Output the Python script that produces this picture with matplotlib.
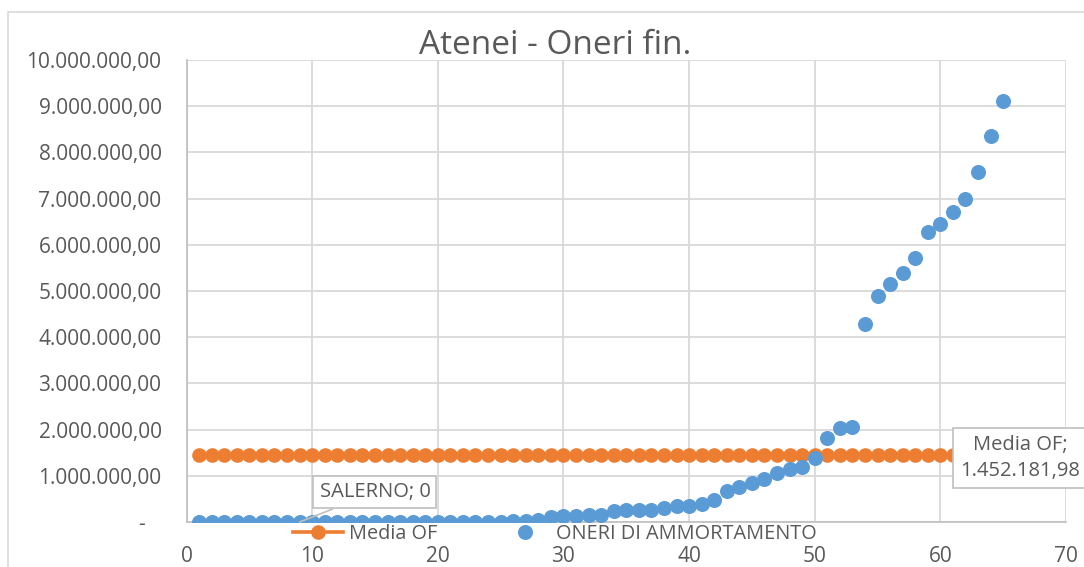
import matplotlib.pyplot as plt
from matplotlib.patches import Rectangle
from matplotlib.lines import Line2D
from matplotlib.ticker import MultipleLocator, FuncFormatter

plt.rcParams['font.family'] = ['Open Sans', 'DejaVu Sans']

# ── dati ────────────────────────────────────────────────────────────────────
atenei = list(range(1, 66))
media_of = 1452181.98
oneri_amm = [
    0, 0, 0, 0, 0, 0, 0, 0, 0, 0,
    0, 0, 0, 0, 0, 0, 0, 0, 0, 0,
    0, 0, 0, 0, 0, 20000, 30000, 50000, 110000, 120000,
    130000, 160000, 160000, 230000, 270000, 270000, 270000, 300000, 340000, 350000,
    400000, 470000, 670000, 750000, 850000, 930000, 1050000, 1150000, 1200000, 1390000,
    1820000, 2030000, 2050000, 4280000, 4900000, 5160000, 5400000, 5720000, 6270000, 6440000,
    6710000, 7000000, 7580000, 8350000, 9120000,
]
media_line = [media_of] * len(atenei)

ORANGE = '#ED7D31'
BLUE = '#5B9BD5'
TXT = '#595959'
GRID = '#D9D9D9'
FS = 15

W, H = 1084, 567
fig = plt.figure(figsize=(W / 100, H / 100), dpi=100)
ax = fig.add_axes([186.5 / W, 1 - 522 / H, (1066 - 186.5) / W, (522 - 60) / H])

# bordo esterno del grafico
fig.patches.append(Rectangle((8 / W, -0.1), 1.2, 1.1 - 12 / H, transform=fig.transFigure,
                             fill=False, edgecolor=GRID, lw=1.2, clip_on=False))

ax.plot(atenei, media_line, '-o', color=ORANGE, lw=2.6, ms=9.5, zorder=3,
        label='Media OF')
ax.plot(atenei, oneri_amm, 'o', color=BLUE, ms=9.8, zorder=4,
        label='ONERI DI AMMORTAMENTO')

ax.set_xlim(0, 70)
ax.set_ylim(0, 10000000)
ax.xaxis.set_major_locator(MultipleLocator(10))
ax.yaxis.set_major_locator(MultipleLocator(1000000))


def fmt_it(v, pos):
    if abs(v) < 1:
        return '-   '
    s = f"{v:,.2f}"
    return s.replace(',', 'X').replace('.', ',').replace('X', '.')


ax.yaxis.set_major_formatter(FuncFormatter(fmt_it))
ax.grid(True, color=GRID, lw=1.3)
ax.set_axisbelow(True)
for side in ['top', 'right']:
    ax.spines[side].set_visible(False)
for side in ['left', 'bottom']:
    ax.spines[side].set_color('#BFBFBF')
    ax.spines[side].set_linewidth(1.2)
ax.tick_params(length=0, labelsize=FS, labelcolor=TXT)
ax.tick_params(axis='y', pad=18)
ax.tick_params(axis='x', pad=17)

fig.text(555 / W, 1 - 54 / H, 'Atenei - Oneri fin.', ha='center', va='baseline',
         fontsize=24, color=TXT)

# etichette dati
bbox = dict(boxstyle='square,pad=0.3', fc='white', ec='#BFBFBF', lw=1.2)
ax.annotate('SALERNO; 0', xy=(9, 0), xytext=(15, 640000), ha='center', va='center',
            fontsize=14.5, color=TXT, bbox=bbox, zorder=6,
            arrowprops=dict(arrowstyle='-', color='#BFBFBF', lw=1.2,
                            shrinkA=0, shrinkB=0))
ax.annotate('Media OF;\n1.452.181,98', xy=(66.35, 1390000), ha='center', va='center',
            fontsize=14.5, color=TXT, bbox=dict(boxstyle='square,pad=0.35', fc='white',
                                                ec='#BFBFBF', lw=1.2),
            linespacing=1.4, zorder=6, annotation_clip=False)

handles = [Line2D([], [], color=ORANGE, lw=2.6, marker='o', ms=9.5),
           Line2D([], [], color=BLUE, lw=0, marker='o', ms=9.8)]
fig.legend(handles, ['Media OF', 'ONERI DI AMMORTAMENTO'], loc='center',
           bbox_to_anchor=(555 / W, 1 - 534 / H), ncol=2, frameon=False,
           fontsize=14.3, labelcolor=TXT, handlelength=2.5, columnspacing=3.2,
           handletextpad=0.3, borderaxespad=0)

fig.savefig('out.png', dpi=100)
